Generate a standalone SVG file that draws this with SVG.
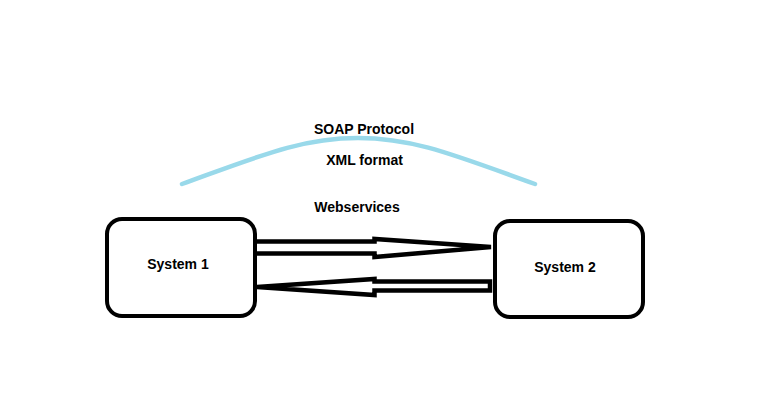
<svg xmlns="http://www.w3.org/2000/svg" width="767" height="419" viewBox="0 0 767 419">
<style>
.box{fill:#fff;stroke:#000;stroke-width:4}
.arrow{fill:#fff;stroke:#000;stroke-width:4.5;stroke-linejoin:miter;stroke-miterlimit:4}
.lbl{font-family:"Liberation Sans",Arial,sans-serif;font-weight:bold;font-size:14px;fill:#000;text-anchor:middle}
.curve{fill:none;stroke:#99d9ea;stroke-width:4.5;stroke-linecap:round}
</style>
<rect width="767" height="419" fill="#fff"/>
<path class="curve" d="M182,184 C262,155 302,138 358,138 C414,138 454,155 535,184"/>
<text class="lbl" x="364" y="134">SOAP Protocol</text>
<text class="lbl" x="364.5" y="165">XML format</text>
<text class="lbl" x="357" y="212">Webservices</text>
<g id="connectors">
<path class="arrow" d="M254,241.5 H374.5 V239 L491,247 L374.5,257 V253.5 H254"/>
<path class="arrow" d="M490,281.5 V290.5 H374.5 V295 L257,287 L374.5,279 V281.5 Z"/>
</g>
<g id="system1">
<rect class="box" x="107" y="219" width="148" height="97" rx="15"/>
<text class="lbl" x="178" y="269">System 1</text>
</g>
<g id="system2">
<rect class="box" x="495" y="221" width="148" height="96" rx="15"/>
<text class="lbl" x="565" y="272">System 2</text>
</g>
</svg>
